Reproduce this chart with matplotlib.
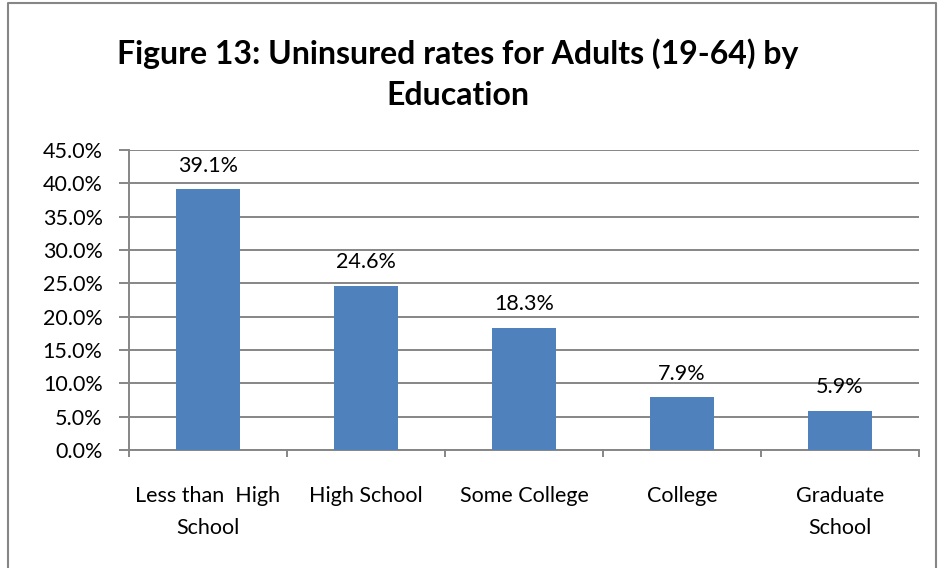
import matplotlib
matplotlib.use("Agg")
import matplotlib.pyplot as plt
from matplotlib.lines import Line2D
from matplotlib.ticker import FuncFormatter, MultipleLocator
import numpy as np

categories = ["Less than  High\nSchool", "High School", "Some College", "College", "Graduate\nSchool"]
rates = [39.1, 24.6, 18.3, 7.9, 5.9]
title = "Figure 13: Uninsured rates for Adults (19-64) by\nEducation"

plt.rcParams['font.family'] = ['Lato', 'DejaVu Sans']

W, H = 938, 568
fig = plt.figure(figsize=(W / 100, H / 100), dpi=100)
ax = fig.add_axes([129 / W, 1 - 450 / H, 790 / W, 300 / H])

grid_color = "#868686"
fs = 15.5
x = np.arange(len(categories))
ax.bar(x, rates, width=0.4, color="#4F81BD", zorder=3)

for xi, v in zip(x, rates):
    ax.annotate(f"{v:.1f}%", (xi, v), xytext=(0, 17), textcoords="offset points",
                ha="center", va="center", fontsize=fs, color="black")

ax.set_xlim(-0.5, len(categories) - 0.5)
ax.set_ylim(0, 45)
ax.yaxis.set_major_locator(MultipleLocator(5))
ax.yaxis.set_major_formatter(FuncFormatter(lambda v, p: f"{v:.1f}%"))
ax.grid(axis="y", color=grid_color, linewidth=1.4, zorder=0)
ax.set_axisbelow(True)

ax.set_xticks(np.arange(-0.5, len(categories)), minor=False)
ax.set_xticklabels([])
ax.set_xticks(x, minor=True)
ax.set_xticklabels(categories, minor=True, fontsize=fs, linespacing=1.75, va="top")
ax.tick_params(axis="x", which="minor", length=0, pad=26)
ax.tick_params(axis="x", which="major", length=5, color=grid_color, width=1.4)
ax.tick_params(axis="y", length=7, color=grid_color, width=1.4, labelsize=fs, pad=12)

for s in ["top", "right"]:
    ax.spines[s].set_visible(False)
for s in ["left", "bottom"]:
    ax.spines[s].set_color(grid_color)
    ax.spines[s].set_linewidth(1.4)

fig.text(458 / W, 1 - 74 / H, title, ha="center", va="center", fontsize=23,
         fontweight="bold", linespacing=1.5)

# chart frame (left, top, right edges)
frame_x = [8 / W, 8 / W, 936 / W, 936 / W]
frame_y = [0, 1 - 3 / H, 1 - 3 / H, 0]
fig.add_artist(Line2D(frame_x, frame_y, transform=fig.transFigure,
                      color=grid_color, linewidth=1.5))

fig.savefig("out.png", dpi=100)
